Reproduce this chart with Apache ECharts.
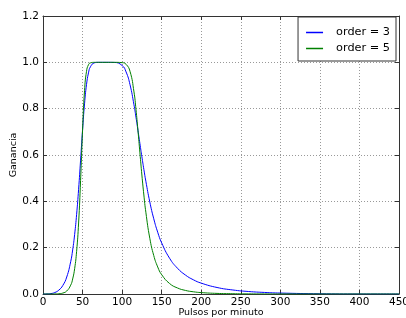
<!DOCTYPE html>
<html><head><meta charset="utf-8">
<script src="https://cdn.jsdelivr.net/npm/echarts@6/dist/echarts.min.js"></script>
<style>html,body{margin:0;padding:0;background:#fff}#c{width:406px;height:318px}</style>
</head><body><div id="c"></div>
<script>
const bpm = [0,5,10,15,20,25,30,35,37.5,40,42.5,45,47.5,50,52.5,55,57.5,60,65,70,80,90,100,105,110,115,117.5,120,122.5,125,127.5,130,135,140,145,150,160,170,180,190,200,220,240,260,280,300,350,400,450];
const order3 = [0,0.0002,0.0018,0.0064,0.0167,0.0366,0.0733,0.1396,0.1902,0.2571,0.3438,0.4518,0.5775,0.7071,0.8209,0.9039,0.9545,0.9809,0.9978,0.9999,1.0,0.9996,0.9863,0.9587,0.9035,0.8166,0.7636,0.7071,0.6492,0.5923,0.5378,0.4868,0.3973,0.3247,0.2666,0.2206,0.1544,0.1112,0.0819,0.0615,0.0469,0.0281,0.0173,0.0107,0.0067,0.0041,0.0010,0.0001,0];
const order5 = [0,0,0,0.0002,0.0011,0.0040,0.0129,0.0382,0.0648,0.1094,0.1842,0.3064,0.4897,0.7071,0.8776,0.9611,0.9898,0.9977,0.9999,1.0,1.0,1.0,0.9987,0.9914,0.9611,0.8722,0.7977,0.7071,0.6091,0.5137,0.4273,0.3531,0.2405,0.1659,0.1167,0.0836,0.0453,0.0260,0.0155,0.0096,0.0061,0.0026,0.0012,0.0005,0.0002,0.0001,0,0,0];
const seriesNames = ['order = 3','order = 5'];
const xTitle = 'Pulsos por minuto';
const yTitle = 'Ganancia';

const F = 'DejaVu Sans';
const frame = {show:true, onZero:false, lineStyle:{color:'#333', width:1}};
const tick = {show:true, inside:true, length:4, lineStyle:{color:'#333'}};
const grid = {show:true, lineStyle:{color:'#999', type:[1,2], width:1}};
const chart = echarts.init(document.getElementById('c'), null, {renderer:'canvas'});
chart.setOption({
  animation:false,
  backgroundColor:'#fff',
  grid:{left:43, right:7, top:16, bottom:24, containLabel:false, outerBoundsMode:'none'},
  legend:{
    right:10, top:17, orient:'vertical',
    data:seriesNames,
    icon:'rect',
    itemWidth:17, itemHeight:1.5, itemGap:3,
    borderColor:'#333', borderWidth:1, padding:[9,6,6,8],
    backgroundColor:'#fff',
    textStyle:{fontFamily:F, fontSize:11.3, color:'#000', padding:[0,0,0,8], lineHeight:13}
  },
  xAxis:[{
    type:'value', min:0, max:450, interval:50, position:'bottom',
    axisLine:frame, axisTick:tick, splitLine:grid,
    axisLabel:{fontFamily:F, fontSize:10.5, color:'#000', margin:3},
    name:xTitle, nameLocation:'middle', nameGap:14, nameMoveOverlap:false,
    nameTextStyle:{fontFamily:F, fontSize:9.5, color:'#000'}
  },{
    type:'value', min:0, max:450, interval:50, position:'top',
    axisLine:frame, axisTick:tick, splitLine:{show:false}, axisLabel:{show:false}
  }],
  yAxis:[{
    type:'value', min:0, max:1.2, interval:0.2, position:'left',
    axisLine:frame, axisTick:tick, splitLine:grid,
    axisLabel:{fontFamily:F, fontSize:10.5, color:'#000', margin:4, formatter:v=>v.toFixed(1)},
    name:yTitle, nameLocation:'middle', nameGap:24, nameRotate:90, nameMoveOverlap:false,
    nameTextStyle:{fontFamily:F, fontSize:9.5, color:'#000'}
  },{
    type:'value', min:0, max:1.2, interval:0.2, position:'right',
    axisLine:frame, axisTick:tick, splitLine:{show:false}, axisLabel:{show:false}
  }],
  series:[
    {name:seriesNames[0], type:'line', data:bpm.map((x,i)=>[x,order3[i]]), showSymbol:false, symbol:'none',
     smooth:0.5, lineStyle:{color:'#0000ff', width:1}, itemStyle:{color:'#0000ff'}},
    {name:seriesNames[1], type:'line', data:bpm.map((x,i)=>[x,order5[i]]), showSymbol:false, symbol:'none',
     smooth:0.5, lineStyle:{color:'#008000', width:1}, itemStyle:{color:'#008000'}}
  ]
});
</script></body></html>
